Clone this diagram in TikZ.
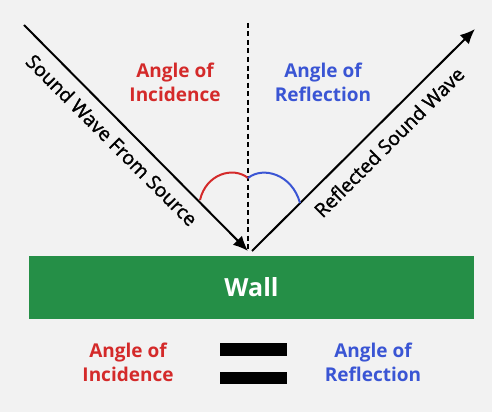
\documentclass[tikz,border=0pt]{standalone}
\usepackage{fontspec}
\setmainfont{Open Sans}
\newfontfamily\raysemi[FakeBold=1.3]{Open Sans}
\usetikzlibrary{arrows.meta}
\definecolor{bg}{HTML}{F2F2F2}
\definecolor{wallgreen}{HTML}{258F47}
\definecolor{incred}{HTML}{D42A2A}
\definecolor{refblue}{HTML}{3A55D4}
\tikzset{
  ray/.style={line width=2pt, draw=black, -{Latex[length=15pt,width=13pt]}},
  anglelbl/.style={align=center, font=\fontsize{19}{24}\selectfont\bfseries, inner sep=0pt},
  raylbl/.style={font=\raysemi\fontsize{19.5}{22}\selectfont, inner sep=0pt},
  eqbar/.style={fill=black, inner sep=0pt, minimum width=67pt, minimum height=12.5pt},
}
\begin{document}
\begin{tikzpicture}[x=1pt,y=-1pt]
\fill[bg] (0,0) rectangle (492,412);
\useasboundingbox (0,0) rectangle (492,412);
% wall
\node[fill=wallgreen, minimum width=445pt, minimum height=63pt, inner sep=0pt,
      text=white, font=\fontsize{25}{28}\selectfont\bfseries] (wall) at (251.5,287.5) {Wall};
% coordinates
\coordinate (src) at (24,25);
\coordinate (hit) at (248,251);
\coordinate (rstart) at (252,251);
\coordinate (rend) at (475,29);
\coordinate (ntop) at (248,23);
% normal
\draw[line width=2.8pt, dash pattern=on 5pt off 3.5pt] (ntop) -- (hit);
% rays
\draw[ray] (src) -- (hit);
\draw[ray] (rstart) -- (rend);
% angle arcs
\coordinate (ra) at (200,200);
\coordinate (mid) at (248,178);
\coordinate (ba) at (300,203);
\draw[incred, line width=2pt] (ra) .. controls (206,174) and (233,166) .. (mid);
\draw[refblue, line width=2pt] (mid) .. controls (263,166) and (292,174) .. (ba);
% labels
\node[anglelbl, text=incred] (inctop) at (175,82) {Angle of\\Incidence};
\node[anglelbl, text=refblue] (reftop) at (323,82) {Angle of\\Reflection};
\node[raylbl, rotate=-45] (srclbl) at (112,140) {Sound Wave From Source};
\node[raylbl, rotate=45] (reflbl) at (389,142) {Reflected Sound Wave};
% bottom equation
\node[anglelbl, text=incred] (incbot) at (128,362) {Angle of\\Incidence};
\node[anglelbl, text=refblue] (refbot) at (373,362) {Angle of\\Reflection};
\node[eqbar] (eqa) at (253.5,349.5) {};
\node[eqbar] (eqb) at (253.5,378) {};
\end{tikzpicture}
\end{document}
